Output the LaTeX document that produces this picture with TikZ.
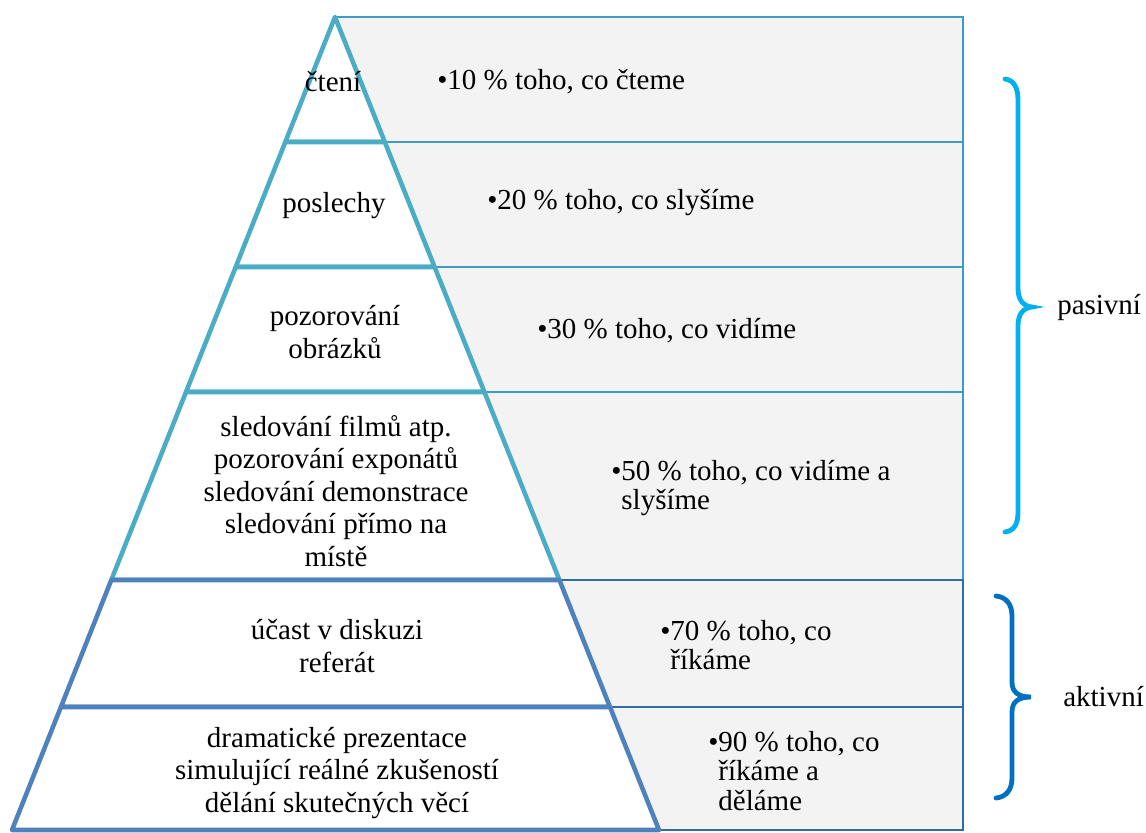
\documentclass[tikz,border=0pt]{standalone}
\usepackage{fontspec}
\setmainfont{Liberation Serif}
\definecolor{teal1}{HTML}{4BACC6}
\definecolor{blue1}{HTML}{4F81BD}
\definecolor{boxteal}{HTML}{3E9CC4}
\definecolor{boxblue}{HTML}{2E6DA4}
\definecolor{boxfill}{HTML}{F3F3F3}
\definecolor{bracelight}{HTML}{00B0F0}
\definecolor{bracedark}{HTML}{0070C0}
\begin{document}
\begin{tikzpicture}[x=0.75pt,y=-0.75pt,
 pyrtext/.style={align=center, font=\fontsize{21.75pt}{24.4pt}\selectfont, inner sep=0pt},
 boxtext/.style={align=left, anchor=west, font=\fontsize{21.75pt}{22.1pt}\selectfont, inner sep=0pt},
 sidetext/.style={anchor=west, font=\fontsize{21.75pt}{24pt}\selectfont, inner sep=0pt},
 upperbox/.style={fill=boxfill, draw=boxteal, line width=1.6pt},
 lowerbox/.style={fill=boxfill, draw=boxblue, line width=1.6pt},
 upperlayer/.style={fill=white, draw=teal1, line width=3.4pt, line join=round},
 lowerlayer/.style={fill=white, draw=blue1, line width=3.4pt, line join=round},
 bracestyle/.style={line width=3.6pt, line cap=round}]
\useasboundingbox (0,0) rectangle (1146,832);
% grey boxes
\draw[upperbox] (335,17) rectangle (963,142);
\draw[upperbox] (384.8,142) rectangle (963,267);
\draw[upperbox] (434.6,267) rectangle (963,392);
\draw[upperbox] (484.4,392) rectangle (963,580);
\draw[lowerbox] (559.4,580) rectangle (963,707);
\draw[lowerbox] (610,707) rectangle (963,830);
% pyramid
\draw[upperlayer] (335,17) -- (384.8,142) -- (285.3,142) -- cycle;
\draw[upperlayer] (285.3,142) -- (384.8,142) -- (434.6,267) -- (235.7,267) -- cycle;
\draw[upperlayer] (235.7,267) -- (434.6,267) -- (484.4,392) -- (186,392) -- cycle;
\draw[upperlayer] (186,392) -- (484.4,392) -- (559.4,580) -- (111.3,580) -- cycle;
\draw[lowerlayer] (111.3,580) -- (559.4,580) -- (610,707) -- (60.9,707) -- cycle;
\draw[lowerlayer] (60.9,707) -- (610,707) -- (659,830) -- (12,830) -- cycle;
% pyramid texts
\node[pyrtext] (l1) at (333,82) {čtení};
\node[pyrtext] (l2) at (334,206) {poslechy};
\node[pyrtext] (l3) at (335,332) {pozorování\\obrázků};
\node[pyrtext] (l4) at (336,491) {sledování filmů atp.\\pozorování exponátů\\sledování demonstrace\\sledování přímo na\\místě};
\node[pyrtext] (l5) at (337,646) {účast v diskuzi\\referát};
\node[pyrtext] (l6) at (337,773) {dramatické prezentace\\simulující reálné zkušeností\\dělání skutečných věcí};
% box texts
\node[boxtext] (r1) at (437,82) {•10 \% toho, co čteme};
\node[boxtext] (r2) at (487,203) {•20 \% toho, co slyšíme};
\node[boxtext] (r3) at (537,331) {•30 \% toho, co vidíme};
\node[boxtext] (r4) at (611,488) {•50 \% toho, co vidíme a\\\hphantom{•}slyšíme};
\node[boxtext] (r5) at (660,645) {•70 \% toho, co\\\hphantom{•}říkáme};
\node[boxtext] (r6) at (708,771) {•90 \% toho, co\\\hphantom{•}říkáme a\\\hphantom{•}děláme};
% braces
\draw[bracestyle, draw=bracelight] (1005,79) .. controls (1014,80) and (1018,88) .. (1018,100)
  -- (1018,288) .. controls (1018,300) and (1023,306) .. (1032,307)
  .. controls (1023,308) and (1018,314) .. (1018,326)
  -- (1018,512) .. controls (1018,524) and (1014,531) .. (1005,532);
\draw[bracestyle, draw=bracedark] (996,596) .. controls (1006,597) and (1012,604) .. (1012,616)
  -- (1012,682) .. controls (1012,692) and (1018,697) .. (1031,697)
  .. controls (1018,697) and (1012,702) .. (1012,712)
  -- (1012,778) .. controls (1012,790) and (1006,797) .. (996,798);
\node[sidetext] (s1) at (1057,307) {pasivní};
\node[sidetext] (s2) at (1063,697) {aktivní};
\end{tikzpicture}
\end{document}
